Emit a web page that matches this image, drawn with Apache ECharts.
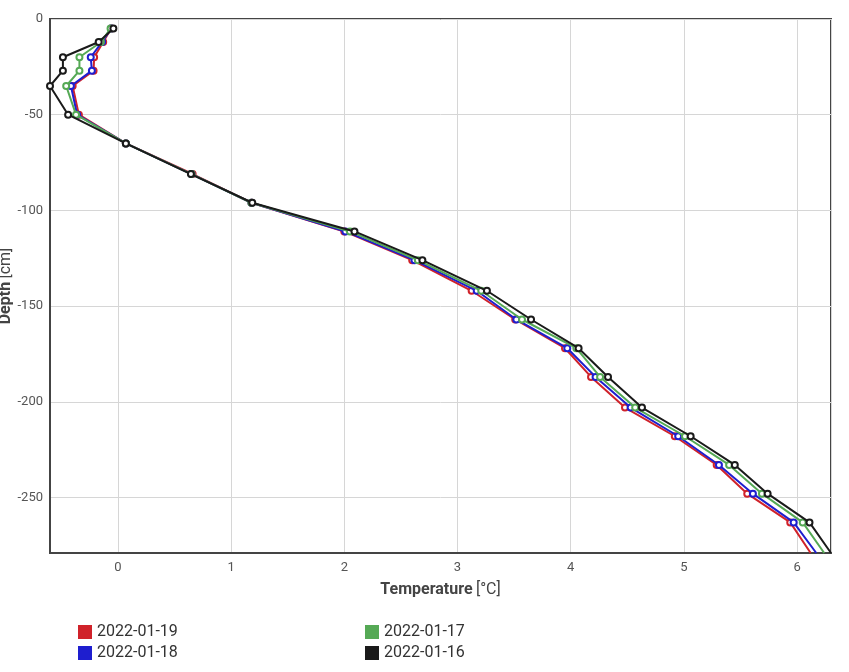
<!DOCTYPE html>
<html>
<head>
<meta charset="utf-8">
<script src="https://cdn.jsdelivr.net/npm/echarts@6/dist/echarts.min.js"></script>
<style>
html,body{margin:0;padding:0;background:#fff;}
#chart{width:849px;height:672px;}
</style>
</head>
<body>
<div id="chart"></div>
<script>
const depths = [-5,-12,-20,-27,-35,-50,-65,-81,-96,-111,-126,-142,-157,-172,-187,-203,-218,-233,-248,-263,-279];
const seriesNames = ['2022-01-19','2022-01-18','2022-01-17','2022-01-16'];
const temp0119 = [-0.06,-0.13,-0.21,-0.215,-0.40,-0.345,0.07,0.66,1.18,2.00,2.60,3.125,3.51,3.95,4.18,4.48,4.92,5.29,5.56,5.94,6.12];
const temp0118 = [-0.06,-0.14,-0.24,-0.23,-0.415,-0.36,0.07,0.65,1.18,2.01,2.62,3.17,3.52,3.97,4.22,4.53,4.95,5.31,5.61,5.97,6.17];
const temp0117 = [-0.065,-0.15,-0.34,-0.34,-0.457,-0.37,0.07,0.65,1.18,2.05,2.65,3.21,3.57,4.05,4.26,4.57,5.01,5.40,5.69,6.05,6.24];
const temp0116 = [-0.04,-0.17,-0.486,-0.486,-0.6,-0.44,0.07,0.645,1.187,2.09,2.69,3.26,3.65,4.07,4.33,4.63,5.06,5.45,5.74,6.11,6.30];
const colors = ['#d0222a','#1e1ecf','#55a955','#1a1a1a'];
const temps = [temp0119, temp0118, temp0117, temp0116];

const chart = echarts.init(document.getElementById('chart'));
const series = temps.map((t, i) => ({
  name: seriesNames[i],
  type: 'line',
  data: t.map((x, j) => {
    const item = {value: [x, depths[j]]};
    if (j === t.length - 1) item.symbol = 'none';
    return item;
  }),
  symbol: 'circle',
  symbolSize: 6,
  showAllSymbol: true,
  clip: true,
  lineStyle: {color: colors[i], width: 2},
  itemStyle: {color: '#fff', borderColor: colors[i], borderWidth: 2},
  emphasis: {disabled: true},
  z: 2 + i,
  animation: false
}));

const legendText = {fontSize: 16, color: '#333', fontFamily: 'Roboto'};
const nameRich = {
  b: {fontWeight: 'bold', fontSize: 16, color: '#444', fontFamily: 'Roboto'},
  n: {fontSize: 16, color: '#444', fontFamily: 'Roboto'}
};
chart.setOption({
  animation: false,
  grid: {left: 50, right: 18, top: 19, bottom: 119, containLabel: false, outerBoundsMode: 'none',
         show: true, borderColor: '#444', borderWidth: 2, backgroundColor: 'transparent'},
  xAxis: {
    type: 'value', min: -0.6, max: 6.3,
    name: '{b|Temperature} {n|[°C]}',
    nameLocation: 'middle', nameGap: 29, nameMoveOverlap: false,
    nameTextStyle: {rich: nameRich},
    axisLine: {show: true, onZero: false, lineStyle: {color: '#444', width: 2}},
    axisTick: {show: false},
    axisLabel: {showMinLabel: false, showMaxLabel: false, color: '#555', fontSize: 13, fontFamily: 'Roboto', margin: 8},
    splitLine: {show: true, lineStyle: {color: '#d6d6d6', width: 1}}
  },
  yAxis: {
    type: 'value', min: -279, max: 0,
    name: '{b|Depth} {n|[cm]}',
    nameLocation: 'middle', nameGap: 36, nameMoveOverlap: false,
    nameTextStyle: {rich: nameRich},
    axisLine: {show: true, onZero: false, lineStyle: {color: '#444', width: 2}},
    axisTick: {show: false},
    axisLabel: {showMinLabel: false, color: '#555', fontSize: 13, fontFamily: 'Roboto', margin: 7},
    splitLine: {show: true, lineStyle: {color: '#d6d6d6', width: 1}}
  },
  legend: [
    {
      orient: 'vertical', left: 78, top: 624, padding: 0, itemWidth: 14, itemHeight: 14, itemGap: 5,
      icon: 'rect', textStyle: legendText, selectedMode: false,
      data: [
        {name: seriesNames[0], itemStyle: {color: colors[0], borderWidth: 0}},
        {name: seriesNames[1], itemStyle: {color: colors[1], borderWidth: 0}}
      ]
    },
    {
      orient: 'vertical', left: 365, top: 624, padding: 0, itemWidth: 14, itemHeight: 14, itemGap: 5,
      icon: 'rect', textStyle: legendText, selectedMode: false,
      data: [
        {name: seriesNames[2], itemStyle: {color: colors[2], borderWidth: 0}},
        {name: seriesNames[3], itemStyle: {color: colors[3], borderWidth: 0}}
      ]
    }
  ],
  series: series
});
</script>
</body>
</html>
